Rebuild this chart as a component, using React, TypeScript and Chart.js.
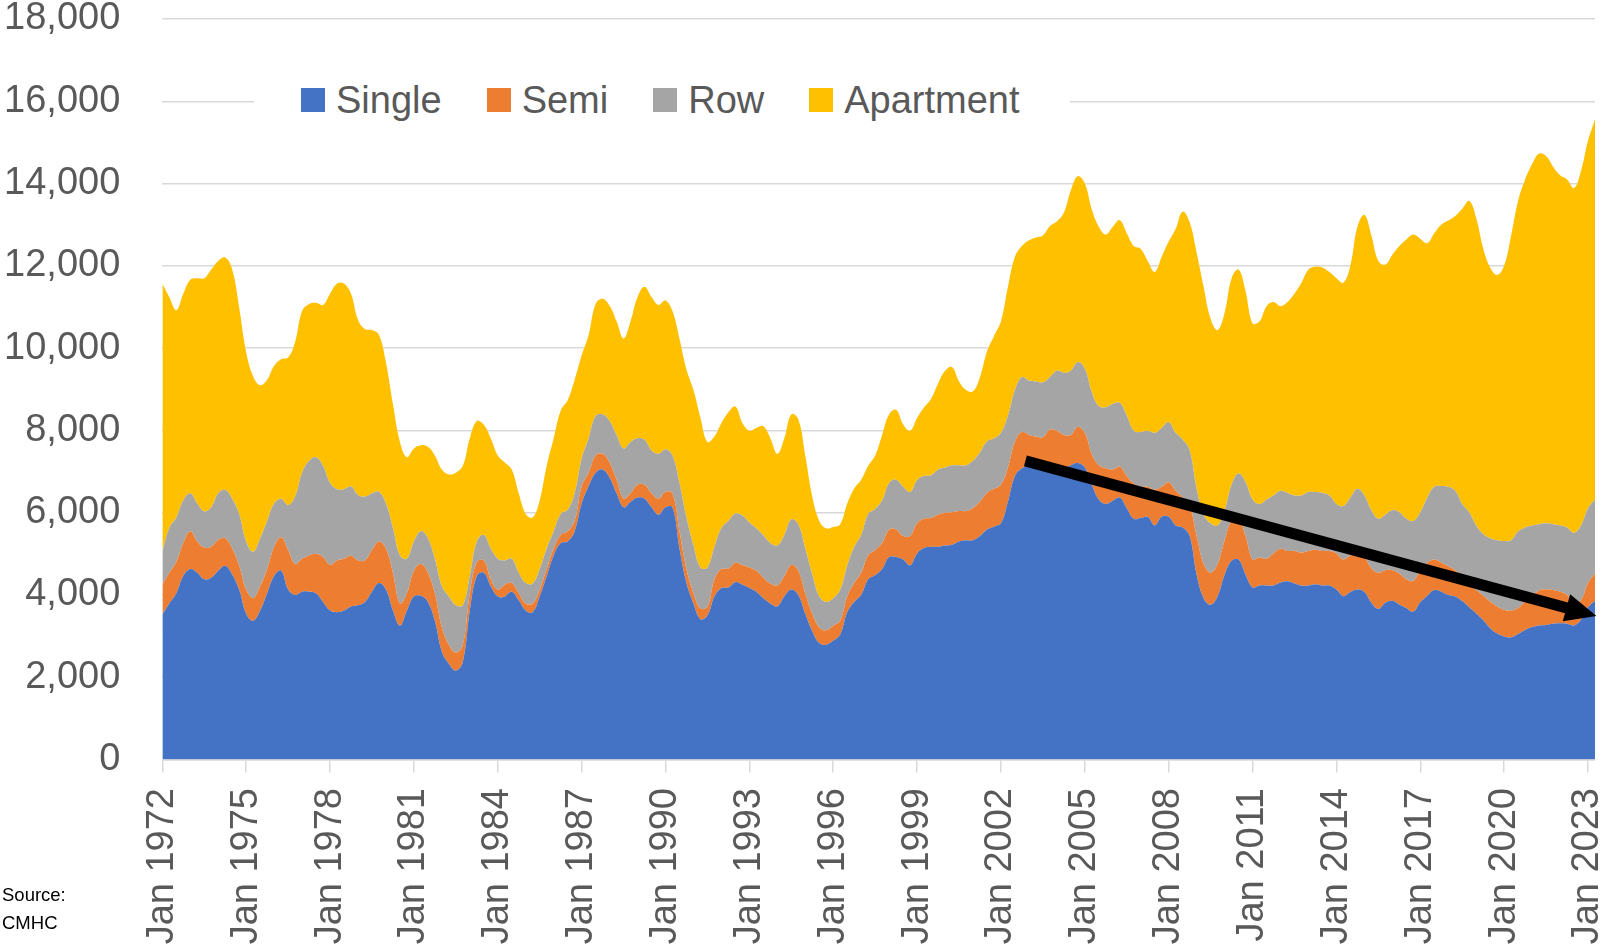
import React, { useEffect, useRef } from "react";
import { Chart, registerables } from "chart.js";

Chart.register(...registerables);

// Quarterly housing starts, Jan 1972 .. Apr 2023 (index = quarters since Jan 1972)
const START_YEAR = 1972;
const QUARTERS_PER_YEAR = 4;
const TICK_YEARS = [1972, 1975, 1978, 1981, 1984, 1987, 1990, 1993, 1996, 1999, 2002, 2005, 2008, 2011, 2014, 2017, 2020, 2023];

const single = [
  3520, 3790, 4040, 4460, 4630, 4540, 4380, 4420, 4590, 4710,
  4500, 4130, 3540, 3370, 3620, 4040, 4460, 4590, 4130, 4000,
  4080, 4080, 4040, 3830, 3620, 3580, 3620, 3720, 3750, 3830,
  4080, 4290, 4130, 3620, 3250, 3620, 3960, 3980, 3830, 3370,
  2620, 2330, 2160, 2370, 3620, 4460, 4540, 4210, 3960, 3960,
  4080, 3870, 3620, 3580, 3960, 4460, 4960, 5260, 5300, 5550,
  6220, 6640, 6970, 7050, 6850, 6470, 6130, 6260, 6370, 6340,
  6130, 5950, 6130, 6130, 5130, 4290, 3790, 3410, 3500, 3960,
  4170, 4180, 4310, 4250, 4170, 4080, 3920, 3790, 3720, 3960,
  4130, 4000, 3540, 3120, 2830, 2790, 2890, 3040, 3580, 3830,
  4000, 4380, 4480, 4630, 4920, 4920, 4860, 4720, 5010, 5140,
  5170, 5170, 5200, 5220, 5300, 5330, 5330, 5430, 5590, 5660,
  5740, 6270, 6890, 7080, 7120, 7120, 7150, 7120, 7100, 7080,
  7150, 7210, 7100, 6680, 6320, 6210, 6290, 6370, 6110, 5850,
  5870, 5900, 5690, 5900, 5900, 5690, 5640, 5430, 4490, 3920,
  3760, 3970, 4490, 4830, 4860, 4490, 4180, 4230, 4230, 4230,
  4300, 4330, 4280, 4230, 4230, 4260, 4230, 4230, 4130, 3970,
  4070, 4130, 4070, 3810, 3660, 3810, 3860, 3770, 3680, 3590,
  3820, 3980, 4120, 4080, 4000, 3960, 3850, 3700, 3550, 3390,
  3190, 3060, 2990, 2970, 3050, 3150, 3220, 3260, 3270, 3300,
  3310, 3300, 3260, 3400, 3700, 3860,
];

const semi = [
  730, 750, 760, 800, 920, 760, 770, 750, 750, 670,
  630, 580, 590, 550, 590, 590, 710, 810, 960, 750,
  800, 880, 960, 1090, 1110, 1260, 1260, 1230, 1090, 1010,
  1010, 1010, 1000, 920, 540, 420, 630, 770, 710, 670,
  590, 460, 440, 420, 420, 340, 300, 170, 170, 290,
  210, 170, 170, 210, 170, 170, 170, 200, 250, 250,
  420, 330, 420, 380, 370, 330, 210, 210, 310, 340,
  340, 390, 380, 340, 420, 340, 250, 260, 210, 420,
  460, 460, 470, 480, 500, 510, 500, 490, 510, 500,
  600, 590, 500, 420, 380, 350, 360, 330, 380, 460,
  540, 580, 610, 630, 670, 670, 570, 710, 730, 710,
  700, 780, 800, 790, 740, 710, 780, 840, 890, 920,
  940, 830, 840, 880, 770, 730, 680, 900, 890, 810,
  740, 880, 840, 740, 830, 870, 760, 750, 780, 860,
  760, 730, 870, 730, 840, 840, 730, 730, 940, 830,
  780, 780, 840, 970, 990, 940, 680, 680, 650, 780,
  820, 740, 790, 800, 840, 840, 840, 840, 880, 890,
  890, 830, 840, 840, 880, 790, 740, 750, 700, 750,
  780, 800, 740, 710, 700, 640, 560, 550, 570, 590,
  650, 660, 650, 650, 630, 690, 760, 850, 870, 820,
  770, 700, 540, 480, 590, 670,
];

const row = [
  800, 1090, 1080, 1040, 920, 920, 880, 960, 1130, 1170,
  1210, 1260, 1170, 1130, 1170, 1170, 1050, 940, 1090, 1640,
  2090, 2300, 2350, 2220, 1990, 1730, 1690, 1690, 1590, 1550,
  1380, 1210, 1090, 1090, 1170, 840, 710, 800, 840, 840,
  1000, 1170, 1150, 960, 420, 500, 620, 750, 750, 590,
  590, 500, 500, 490, 500, 500, 420, 510, 520, 670,
  670, 840, 960, 960, 1010, 1090, 1220, 1250, 1130, 1090,
  1040, 1090, 1030, 920, 1170, 1250, 1170, 1000, 960, 790,
  1000, 1160, 1200, 1200, 1090, 1030, 1030, 980, 970, 1000,
  1110, 1130, 1090, 960, 750, 690, 670, 760, 750, 880,
  920, 1010, 1000, 1040, 1130, 1210, 1200, 1070, 1050, 1040,
  1040, 1100, 1100, 1140, 1110, 1110, 1150, 1200, 1250, 1220,
  1260, 1260, 1250, 1340, 1320, 1340, 1340, 1280, 1460, 1510,
  1560, 1570, 1560, 1510, 1440, 1480, 1600, 1550, 1470, 1280,
  1330, 1360, 1380, 1430, 1460, 1410, 1410, 1360, 1150, 1200,
  1200, 940, 730, 880, 1100, 1310, 1460, 1300, 1440, 1410,
  1410, 1410, 1350, 1390, 1430, 1400, 1410, 1350, 1200, 1300,
  1410, 1620, 1510, 1410, 1310, 1350, 1460, 1490, 1470, 1460,
  1410, 1590, 1770, 1860, 1930, 1930, 1800, 1760, 1570, 1500,
  1540, 1610, 1670, 1710, 1860, 1800, 1710, 1610, 1600, 1600,
  1610, 1640, 1710, 1810, 1820, 1790,
];

const apartment = [
  6520, 5610, 5040, 5020, 5190, 5480, 5670, 5780, 5650, 5650,
  5570, 5020, 4600, 4260, 3720, 3430, 3350, 3390, 3590, 3760,
  3930, 3810, 3750, 3910, 4600, 5000, 5000, 4680, 4260, 4070,
  3970, 3810, 3430, 3010, 2760, 2470, 2260, 2090, 2220, 2510,
  2840, 2970, 3220, 3390, 3350, 2930, 2680, 2680, 2510, 2380,
  2170, 1930, 1680, 1600, 1670, 2010, 2260, 2510, 2660, 2760,
  2510, 2510, 2720, 2810, 2800, 2760, 2670, 2930, 3430, 3720,
  3730, 3620, 3620, 3510, 3510, 3600, 3770, 3640, 3050, 2680,
  2550, 2640, 2600, 2250, 2230, 2440, 2650, 2550, 2230, 2350,
  2550, 2550, 2260, 1890, 1840, 1790, 1730, 1590, 1510, 1420,
  1340, 1170, 1300, 1590, 1670, 1700, 1520, 1490, 1510, 1670,
  1860, 2090, 2350, 2390, 2040, 1830, 1690, 1830, 2190, 2490,
  2710, 3130, 3240, 3180, 3410, 3500, 3570, 3670, 3630, 3890,
  4390, 4520, 4500, 4440, 4360, 4200, 4300, 4440, 4430, 4490,
  4450, 4130, 3910, 4160, 4390, 4960, 5540, 5540, 5740, 5540,
  4970, 4750, 4800, 5020, 4960, 4640, 4280, 4440, 4700, 4700,
  4490, 4640, 4910, 5170, 5410, 5480, 5480, 5430, 5490, 5430,
  5640, 6370, 6820, 6680, 6270, 6080, 6210, 6470, 6790, 6960,
  6650, 6180, 6160, 6350, 6470, 6680, 7180, 7570, 7470, 6950,
  6580, 6450, 6700, 7410, 8040, 8460, 8780, 9010, 8930, 8690,
  8510, 8460, 8380, 8620, 8930, 9240,
];

const SERIES_NAMES = ["Single", "Semi", "Row", "Apartment"];
const SERIES_COLORS = ["#4472C4", "#ED7D31", "#A5A5A5", "#FFC000"];
const SERIES_VALUES = [single, semi, row, apartment];

const Y_MIN = 0;
const Y_MAX = 18000;
const Y_STEP = 2000;

// Trend arrow, in data coordinates (quarter index, units)
const ARROW_FROM = { x: 123.5, y: 7260 };
const ARROW_TO = { x: 205.2, y: 3490 };

const FONT = '"Liberation Sans", Arial, sans-serif';
const TEXT_COLOR = "#595959";
const GRID_COLOR = "#d9d9d9";

const arrowPlugin = {
  id: "trendArrow",
  afterDraw(chart: any) {
    const { ctx } = chart;
    const xs = chart.scales.x;
    const ys = chart.scales.y;
    const x1 = xs.getPixelForValue(ARROW_FROM.x);
    const y1 = ys.getPixelForValue(ARROW_FROM.y);
    const x2 = xs.getPixelForValue(ARROW_TO.x);
    const y2 = ys.getPixelForValue(ARROW_TO.y);
    const ang = Math.atan2(y2 - y1, x2 - x1);
    const headLen = 31;
    const headHalf = 14;
    const bx = x2 - headLen * Math.cos(ang);
    const by = y2 - headLen * Math.sin(ang);
    ctx.save();
    ctx.strokeStyle = "#000";
    ctx.fillStyle = "#000";
    ctx.lineWidth = 11;
    ctx.lineCap = "butt";
    ctx.beginPath();
    ctx.moveTo(x1, y1);
    ctx.lineTo(bx + 2 * Math.cos(ang), by + 2 * Math.sin(ang));
    ctx.stroke();
    ctx.beginPath();
    ctx.moveTo(x2, y2);
    ctx.lineTo(bx + headHalf * Math.sin(ang), by - headHalf * Math.cos(ang));
    ctx.lineTo(bx - headHalf * Math.sin(ang), by + headHalf * Math.cos(ang));
    ctx.closePath();
    ctx.fill();
    ctx.restore();
  },
};

export default function App() {
  const canvasRef = useRef<HTMLCanvasElement | null>(null);

  useEffect(() => {
    if (!canvasRef.current) return;
    const lastIndex = single.length - 1;
    const datasets = SERIES_NAMES.map((name, i) => ({
      label: name,
      data: SERIES_VALUES[i].map((v, q) => ({ x: q, y: v })),
      backgroundColor: SERIES_COLORS[i],
      borderColor: SERIES_COLORS[i],
      borderWidth: 0,
      pointRadius: 0,
      tension: 0.4,
      fill: i === 0 ? "origin" : "-1",
    }));

    const chart = new Chart(canvasRef.current, {
      type: "line",
      data: { datasets },
      options: {
        responsive: false,
        animation: false,
        devicePixelRatio: 1,
        layout: { padding: { top: 19, right: 8, left: 0, bottom: 0 } },
        plugins: {
          legend: { display: false },
          tooltip: { enabled: false },
        },
        scales: {
          x: {
            type: "linear",
            min: 0,
            max: lastIndex,
            afterBuildTicks: (s: any) => {
              s.ticks = TICK_YEARS.map((yr) => ({ value: (yr - START_YEAR) * QUARTERS_PER_YEAR }));
            },
            afterFit: (s: any) => {
              s.height = 184.5;
              s.paddingLeft = 0;
              s.paddingRight = 0;
            },
            ticks: {
              autoSkip: false,
              minRotation: 90,
              maxRotation: 90,
              padding: 15.5,
              color: TEXT_COLOR,
              font: { family: FONT, size: 38, lineHeight: 1 },
              callback: (v: any) => "Jan " + (START_YEAR + Math.round(Number(v) / QUARTERS_PER_YEAR)),
            },
            grid: {
              drawOnChartArea: false,
              drawTicks: true,
              tickLength: 13,
              color: GRID_COLOR,
              lineWidth: 1.5,
            },
            border: { display: true, color: GRID_COLOR, width: 1.5 },
          },
          y: {
            stacked: true,
            min: Y_MIN,
            max: Y_MAX,
            afterFit: (s: any) => {
              s.width = 162.3;
              s.paddingTop = 0;
              s.paddingBottom = 0;
            },
            ticks: {
              stepSize: Y_STEP,
              padding: 42,
              color: TEXT_COLOR,
              font: { family: FONT, size: 38, lineHeight: 1 },
            },
            grid: { color: GRID_COLOR, lineWidth: 1.5, drawTicks: false },
            border: { display: false },
          },
        },
      },
      plugins: [arrowPlugin],
    } as any);

    return () => chart.destroy();
  }, []);

  return (
    <div
      style={{
        position: "fixed",
        left: 0,
        top: 0,
        width: 1603,
        height: 944,
        overflow: "hidden",
        background: "#fff",
        fontFamily: FONT,
      }}
    >
      <canvas ref={canvasRef} width={1603} height={944} style={{ width: 1603, height: 944, display: "block" }} />
      <div
        style={{
          position: "absolute",
          left: 254,
          top: 72,
          width: 816,
          height: 56,
          background: "#fff",
          display: "flex",
          alignItems: "center",
          boxSizing: "border-box",
          paddingLeft: 47,
          gap: 45,
        }}
      >
        {SERIES_NAMES.map((name, i) => (
          <div key={name} style={{ display: "flex", alignItems: "center", gap: 11 }}>
            <span style={{ width: 24, height: 24, background: SERIES_COLORS[i], display: "inline-block" }} />
            <span style={{ fontSize: 38, color: TEXT_COLOR, lineHeight: "44px" }}>{name}</span>
          </div>
        ))}
      </div>
      <div
        style={{
          position: "absolute",
          left: 2,
          top: 881,
          fontSize: 18.5,
          lineHeight: "28px",
          color: "#000",
        }}
      >
        <div>Source:</div>
        <div>CMHC</div>
      </div>
    </div>
  );
}
